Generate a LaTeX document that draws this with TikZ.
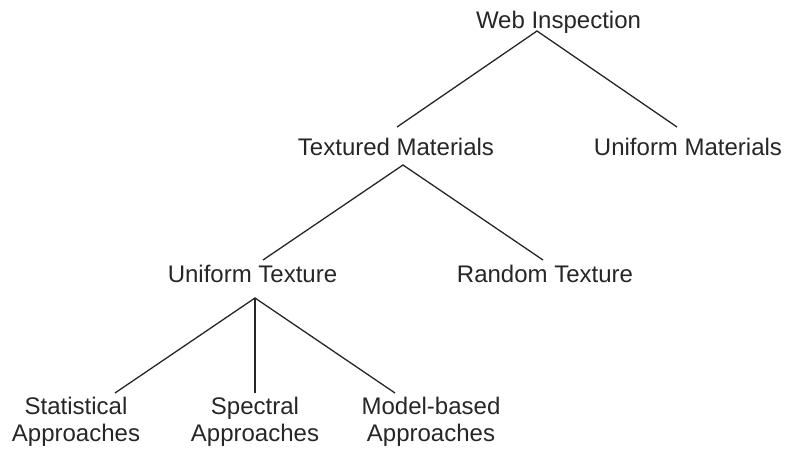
\documentclass[tikz,border=0pt]{standalone}
\usepackage{fontspec}
\setmainfont{Liberation Sans}
\begin{document}
\begin{tikzpicture}[x=1pt,y=-1pt,
  lbl/.style={inner sep=0pt,anchor=base,text=black!85,font=\fontsize{24}{27}\selectfont,align=center},
  edge/.style={line width=1.3pt,draw=black!85}]
\useasboundingbox (0,0) rectangle (785,450);
\node[lbl] (wi) at (558.5,28) {Web Inspection};
\node[lbl] (tm) at (396,155) {Textured Materials};
\node[lbl] (um) at (688,155) {Uniform Materials};
\node[lbl] (ut) at (252.5,282) {Uniform Texture};
\node[lbl] (rt) at (545,282) {Random Texture};
\node[lbl] (sa) at (76,441) {Statistical\\Approaches};
\node[lbl] (sp) at (255,441) {Spectral\\Approaches};
\node[lbl] (mb) at (431,441) {Model-based\\Approaches};
\coordinate (wib) at (537,31);
\coordinate (tmt) at (397,127);
\coordinate (umt) at (677,127);
\coordinate (tmb) at (403,165);
\coordinate (utt) at (263,260);
\coordinate (rtt) at (543,260);
\coordinate (utb) at (255,298);
\coordinate (sat) at (115,393);
\coordinate (spt) at (255,393);
\coordinate (mbt) at (395,393);
\draw[edge] (tmt) -- (wib) -- (umt);
\draw[edge] (utt) -- (tmb) -- (rtt);
\draw[edge] (sat) -- (utb) -- (mbt);
\draw[edge] (utb) -- (spt);
\end{tikzpicture}
\end{document}
